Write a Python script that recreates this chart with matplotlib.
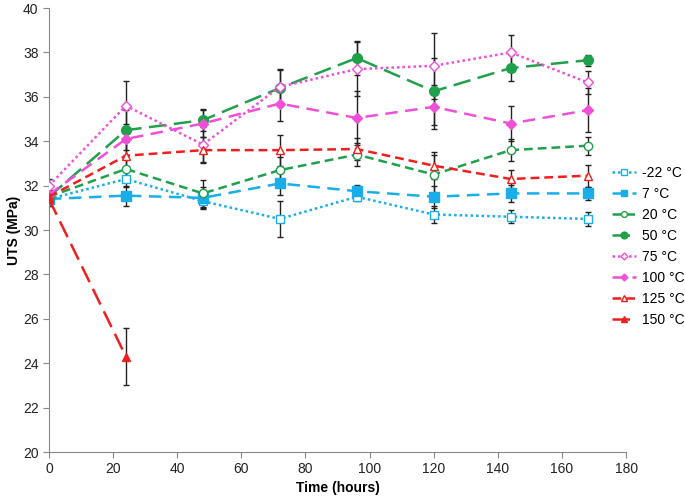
import numpy as np
import matplotlib.pyplot as plt

plt.rcParams['font.family'] = ['Liberation Sans', 'DejaVu Sans']

hours = [0, 24, 48, 72, 96, 120, 144, 168]
labels = ['-22 °C', '7 °C', '20 °C', '50 °C', '75 °C', '100 °C', '125 °C', '150 °C']

# mean UTS (MPa)
uts_m22 = [31.4, 32.3, 31.3, 30.5, 31.5, 30.7, 30.6, 30.5]
uts_7 = [31.4, 31.55, 31.45, 32.1, 31.75, 31.5, 31.65, 31.65]
uts_20 = [31.5, 32.75, 31.65, 32.7, 33.4, 32.5, 33.6, 33.8]
uts_50 = [31.5, 34.5, 34.95, 36.4, 37.75, 36.25, 37.3, 37.65]
uts_75 = [32.0, 35.6, 33.85, 36.45, 37.25, 37.4, 38.0, 36.65]
uts_100 = [31.6, 34.1, 34.8, 35.7, 35.05, 35.55, 34.8, 35.4]
uts_125 = [31.5, 33.35, 33.6, 33.6, 33.65, 32.9, 32.3, 32.45]
uts_150 = [31.4, 24.3]

# standard deviations
err_m22 = [0.3, 0.35, 0.3, 0.8, 0.2, 0.4, 0.3, 0.3]
err_7 = [0.2, 0.45, 0.5, 0.5, 0.3, 0.5, 0.4, 0.3]
err_20 = [0.2, 0.5, 0.6, 0.6, 0.5, 0.9, 0.5, 0.4]
err_50 = [0.2, 0.9, 0.5, 0.8, 0.75, 1.5, 0.6, 0.25]
err_75 = [0.3, 1.1, 0.8, 0.8, 1.2, 1.5, 0.8, 0.5]
err_100 = [0.2, 0.7, 0.6, 0.8, 1.2, 1.0, 0.8, 1.0]
err_125 = [0.3, 0.6, 0.6, 0.7, 0.5, 0.6, 0.4, 0.5]
err_150 = [0.3, 1.3]

series = [uts_m22, uts_7, uts_20, uts_50, uts_75, uts_100, uts_125, uts_150]
errors = [err_m22, err_7, err_20, err_50, err_75, err_100, err_125, err_150]

cyan = '#19AEE8'
green = '#20A04A'
magenta = '#F04FD8'
red = '#F01E1E'
colors = [cyan, cyan, green, green, magenta, magenta, red, red]
markers = ['s', 's', 'o', 'o', 'D', 'D', '^', '^']
filled = [False, True, False, True, False, True, False, True]
styles = [(0, (1, 1.2)), (0, (5, 3)), (0, (3.5, 2)), (0, (7, 3)),
          (0, (1, 1.2)), (0, (5, 3)), (0, (3.5, 2)), (0, (7, 3))]
msizes = [6, 7, 6, 7, 5, 5, 6, 6]

fig = plt.figure(figsize=(6.85, 4.96), dpi=100)
ax = fig.add_axes([0.0715, 0.0887, 0.8425, 0.895])

for i in range(len(series)):
    x = hours[:len(series[i])]
    ax.errorbar(x, series[i], yerr=errors[i], fmt='none', ecolor='#222222',
                elinewidth=1, capsize=2, capthick=1, zorder=2)
    ax.plot(x, series[i], linestyle=styles[i], color=colors[i], lw=1.8,
            marker=markers[i], markersize=msizes[i], markeredgewidth=1,
            markerfacecolor=colors[i] if filled[i] else 'white',
            markeredgecolor=colors[i], label=labels[i], zorder=3)

ax.set_xlim(0, 180)
ax.set_ylim(20, 40)
ax.set_xticks(range(0, 181, 20))
ax.set_yticks(range(20, 41, 2))
ax.spines['top'].set_visible(False)
ax.spines['right'].set_visible(False)
for s in ['left', 'bottom']:
    ax.spines[s].set_color('#888888')
ax.tick_params(colors='#888888', labelcolor='#222222', labelsize=10, length=4)
ax.set_xlabel('Time (hours)', fontsize=10, fontweight='bold', labelpad=3)
ax.set_ylabel('UTS (MPa)', fontsize=10, fontweight='bold', labelpad=1)

ax.legend(loc='upper left', bbox_to_anchor=(0.893, 0.665), bbox_transform=fig.transFigure,
          frameon=False, fontsize=10, handlelength=1.75, handletextpad=0.45,
          labelspacing=0.5, borderpad=0, borderaxespad=0, markerscale=0.7)

plt.savefig('out.png', dpi=100)
